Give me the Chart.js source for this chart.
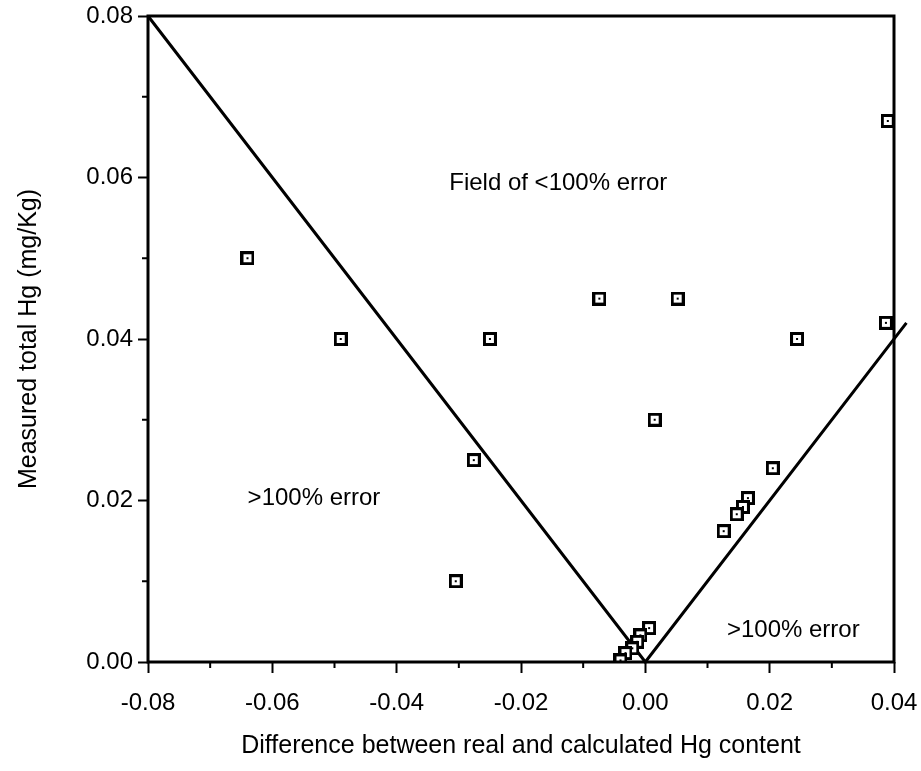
<!DOCTYPE html>
<html>
<head>
<meta charset="utf-8">
<script src="https://cdn.jsdelivr.net/npm/chart.js@4/dist/chart.umd.min.js"></script>
<style>
  html, body { margin: 0; padding: 0; background: #fff; }
  canvas { display: block; }
</style>
</head>
<body>
<canvas id="hgChart" width="921" height="771"></canvas>
<script>
(function () {
    'use strict';

    // measured samples: difference (x) vs measured total Hg (y)
    var diffValues = [-0.064, -0.049, -0.025, -0.0074, 0.0052, -0.0276, -0.0305, 0.0015, 0.0244, 0.0387, 0.039,
        0.0205, 0.0165, 0.0157, 0.0147, 0.0126, 0.0006, -0.0008, -0.0013, -0.0021, -0.0032, -0.0040];
    var hgValues = [0.050, 0.040, 0.040, 0.045, 0.045, 0.025, 0.010, 0.030, 0.040, 0.042, 0.067,
        0.024, 0.0203, 0.0192, 0.0183, 0.0162, 0.0042, 0.0033, 0.0025, 0.0017, 0.0011, 0.0002];

    // 100% error boundary (y = |x|)
    var boundaryX = [-0.08, 0, 0.042];
    var boundaryY = [0.08, 0, 0.042];

    // region labels, placed in data units (baseline)
    var regionText = ['Field of <100% error', '>100% error', '>100% error'];
    var regionX = [-0.0140, -0.0533, 0.0238];
    var regionY = [0.0585, 0.0194, 0.0031];

    var xTitle = 'Difference between real and calculated Hg content';
    var yTitle = 'Measured total Hg (mg/Kg)';

    var FONT = '"Liberation Sans", Arial, Helvetica, sans-serif';

    // square marker with a dot in the centre
    var marker = document.createElement('canvas');
    marker.width = 14;
    marker.height = 14;
    var m = marker.getContext('2d');
    m.fillStyle = '#000';
    m.fillRect(0, 0, 14, 14);
    m.fillStyle = '#fff';
    m.fillRect(3, 3, 8, 8);
    m.fillStyle = '#000';
    m.fillRect(6, 6, 2, 2);

    var points = diffValues.map(function (x, i) { return { x: x, y: hgValues[i] }; });
    var boundary = boundaryX.map(function (x, i) { return { x: x, y: boundaryY[i] }; });

    function fmt(v) {
        return Math.abs(v) < 1e-9 ? '0.00' : v.toFixed(2);
    }

    var framePlugin = {
        id: 'frameAndLabels',
        afterDraw: function (chart) {
            var ctx = chart.ctx;
            var a = chart.chartArea;
            var xs = chart.scales.x;
            var ys = chart.scales.y;
            ctx.save();
            ctx.strokeStyle = '#000';
            ctx.lineWidth = 3;
            ctx.strokeRect(a.left, a.top, a.right - a.left, a.bottom - a.top);

            // minor ticks halfway between the major ones
            ctx.lineWidth = 2;
            ctx.beginPath();
            for (var i = 0; i < xs.ticks.length - 1; i++) {
                var px = xs.getPixelForValue((xs.ticks[i].value + xs.ticks[i + 1].value) / 2);
                ctx.moveTo(px, a.bottom);
                ctx.lineTo(px, a.bottom + 6);
            }
            for (var j = 0; j < ys.ticks.length - 1; j++) {
                var py = ys.getPixelForValue((ys.ticks[j].value + ys.ticks[j + 1].value) / 2);
                ctx.moveTo(a.left, py);
                ctx.lineTo(a.left - 6, py);
            }
            ctx.stroke();

            ctx.fillStyle = '#000';
            ctx.font = '24px ' + FONT;
            ctx.textAlign = 'center';
            ctx.textBaseline = 'alphabetic';
            regionText.forEach(function (t, k) {
                ctx.fillText(t, xs.getPixelForValue(regionX[k]), ys.getPixelForValue(regionY[k]));
            });
            ctx.restore();
        }
    };

    new Chart(document.getElementById('hgChart'), {
        type: 'scatter',
        data: {
            datasets: [
                { label: 'Boundary', data: boundary, showLine: true, borderColor: '#000', borderWidth: 3, pointRadius: 0, clip: false, order: 2 },
                { label: 'Samples', data: points, pointStyle: marker, pointRadius: 7, order: 1 }
            ]
        },
        options: {
            responsive: false,
            animation: false,
            layout: { padding: { top: 16, right: 27, left: 0, bottom: 0 } },
            plugins: { legend: { display: false }, tooltip: { enabled: false } },
            scales: {
                x: {
                    type: 'linear', min: -0.08, max: 0.04,
                    afterFit: function (s) { s.height = 109; s.paddingLeft = 0; s.paddingRight = 0; },
                    border: { display: false },
                    grid: { drawOnChartArea: false, tickLength: 11, tickWidth: 2, tickColor: '#000' },
                    ticks: { stepSize: 0.02, color: '#000', padding: 16, font: { family: FONT, size: 24 }, callback: fmt, maxRotation: 0 },
                    title: { display: true, text: xTitle, color: '#000', font: { family: FONT, size: 25 }, padding: { bottom: 10 } }
                },
                y: {
                    type: 'linear', min: 0, max: 0.08,
                    afterFit: function (s) { s.width = 148; s.paddingTop = 0; s.paddingBottom = 0; },
                    border: { display: false },
                    grid: { drawOnChartArea: false, tickLength: 10, tickWidth: 2, tickColor: '#000' },
                    ticks: { stepSize: 0.02, color: '#000', padding: 5, font: { family: FONT, size: 24 }, callback: fmt },
                    title: { display: true, text: yTitle, color: '#000', font: { family: FONT, size: 25 }, padding: { top: 14 } }
                }
            }
        },
        plugins: [framePlugin]
    });
}());
</script>
</body>
</html>
